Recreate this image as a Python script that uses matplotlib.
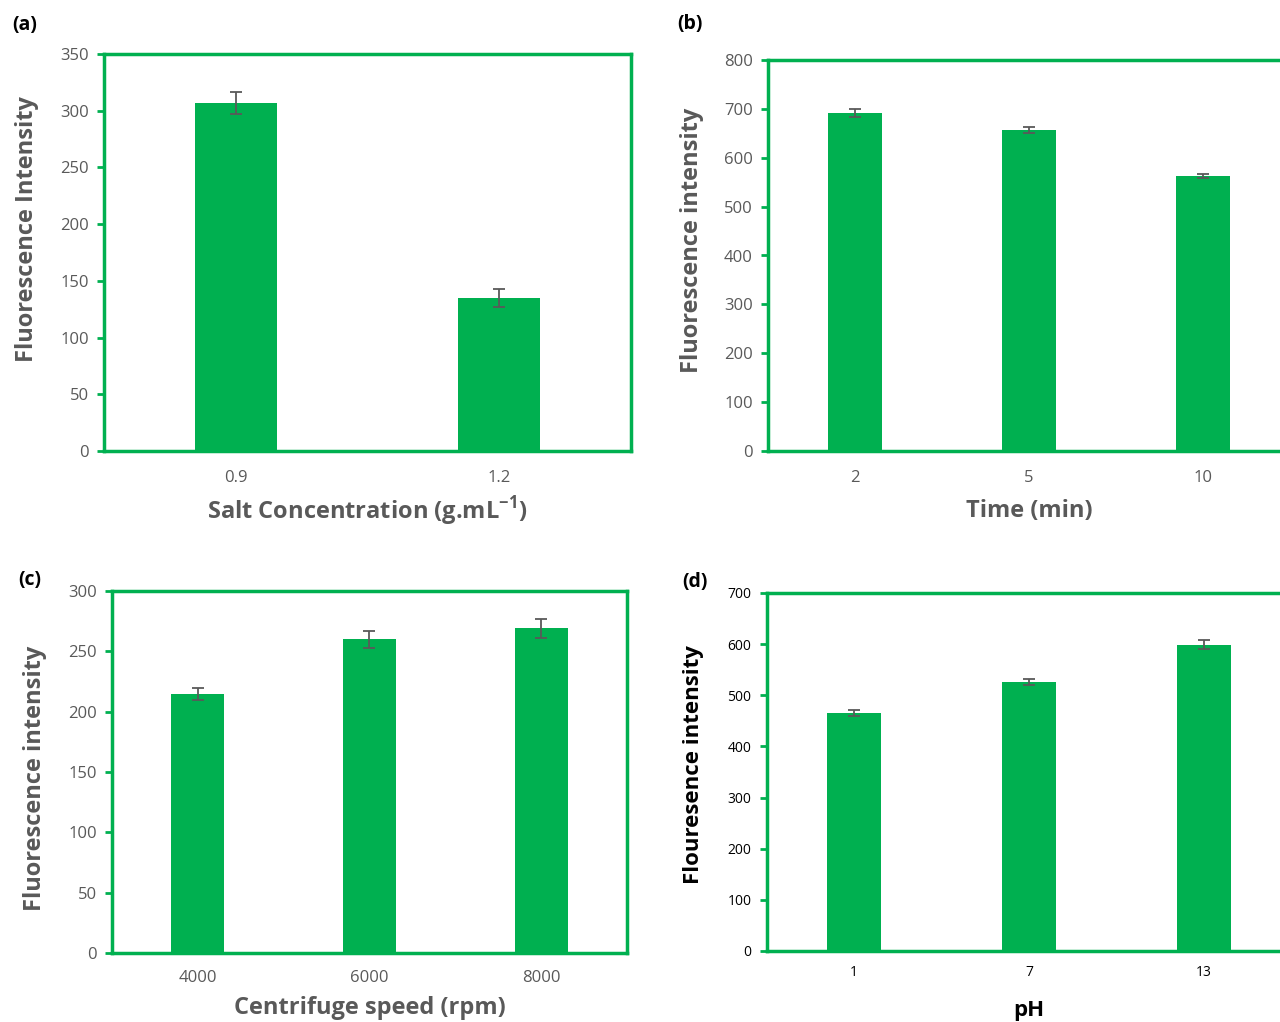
import numpy as np
import matplotlib.pyplot as plt

plt.rcParams['font.family'] = ['Open Sans', 'DejaVu Sans']
plt.rcParams['mathtext.fontset'] = 'custom'
plt.rcParams['mathtext.rm'] = 'Open Sans:bold'
plt.rcParams['mathtext.bf'] = 'Open Sans:bold'

# (a) salt concentration
salt_labels = ['0.9', '1.2']
salt_vals = [307, 135]
salt_err = [9.5, 8]

# (b) time
time_labels = ['2', '5', '10']
time_vals = [691, 656, 563]
time_err = [8, 6, 4]

# (c) centrifuge speed
speed_labels = ['4000', '6000', '8000']
speed_vals = [215, 260, 269]
speed_err = [5, 7, 8]

# (d) pH
ph_labels = ['1', '7', '13']
ph_vals = [466, 526, 599]
ph_err = [6, 5, 9]

GREEN = '#00B050'
GRAY = '#595959'

fig = plt.figure(figsize=(12.8, 10.22), dpi=100)


def panel(rect, labels, vals, err, ymax, ystep, xlabel, ylabel, xl_pos, yl_pos,
          txt_color=GRAY, tick_size=12, label_size=17, xpad=14):
    ax = fig.add_axes(rect)
    x = np.arange(len(labels))
    ax.bar(x, vals, width=0.31, color=GREEN, zorder=2)
    ax.errorbar(x, vals, yerr=err, fmt='none', ecolor=GRAY, elinewidth=1.3,
                capsize=4, capthick=1.3, zorder=3)
    ax.set_xlim(-0.5, len(labels) - 0.5)
    ax.set_ylim(0, ymax)
    ax.set_yticks(np.arange(0, ymax + 1, ystep))
    ax.set_xticks(x)
    ax.set_xticklabels(labels)
    for s in ax.spines.values():
        s.set_color(GREEN)
        s.set_linewidth(2.5)
    ax.tick_params(axis='y', color=GREEN, length=5, width=2, labelcolor=txt_color,
                   labelsize=tick_size, pad=6)
    ax.tick_params(axis='x', length=0, labelcolor=txt_color, labelsize=tick_size, pad=xpad)
    ax.set_xlabel(xlabel, fontsize=label_size, fontweight='bold', color=txt_color, va='center')
    ax.set_ylabel(ylabel, fontsize=label_size, fontweight='bold', color=txt_color, va='center')
    ax.xaxis.set_label_coords(*xl_pos)
    ax.yaxis.set_label_coords(*yl_pos)
    return ax


panel([0.08125, 0.5587, 0.4117, 0.3885], salt_labels, salt_vals, salt_err, 350, 50,
      'Salt Concentration (g.mL$^{\\mathrm{-1}}$)', 'Fluorescence Intensity',
      (0.5, -0.151), (-0.146, 0.56))
panel([0.6, 0.5587, 0.4078, 0.3826], time_labels, time_vals, time_err, 800, 100,
      'Time (min)', 'Fluorescence intensity',
      (0.5, -0.153), (-0.146, 0.54))
panel([0.0875, 0.0675, 0.4023, 0.3542], speed_labels, speed_vals, speed_err, 300, 50,
      'Centrifuge speed (rpm)', 'Fluorescence intensity',
      (0.5, -0.152), (-0.15, 0.483), xpad=12)
panel([0.599, 0.0695, 0.41, 0.3503], ph_labels, ph_vals, ph_err, 700, 100,
      'pH', 'Flouresence intensity',
      (0.5, -0.165), (-0.139, 0.52), txt_color='black', tick_size=10,
      label_size=16, xpad=10)

for lbl, px, py in [('(a)', 25, 25), ('(b)', 690, 24), ('(c)', 30, 580), ('(d)', 695, 582)]:
    fig.text(px / 1280, 1 - py / 1022, lbl, fontsize=14, fontweight='bold',
             ha='center', va='center', color='black')

fig.savefig('out.png', dpi=100)
